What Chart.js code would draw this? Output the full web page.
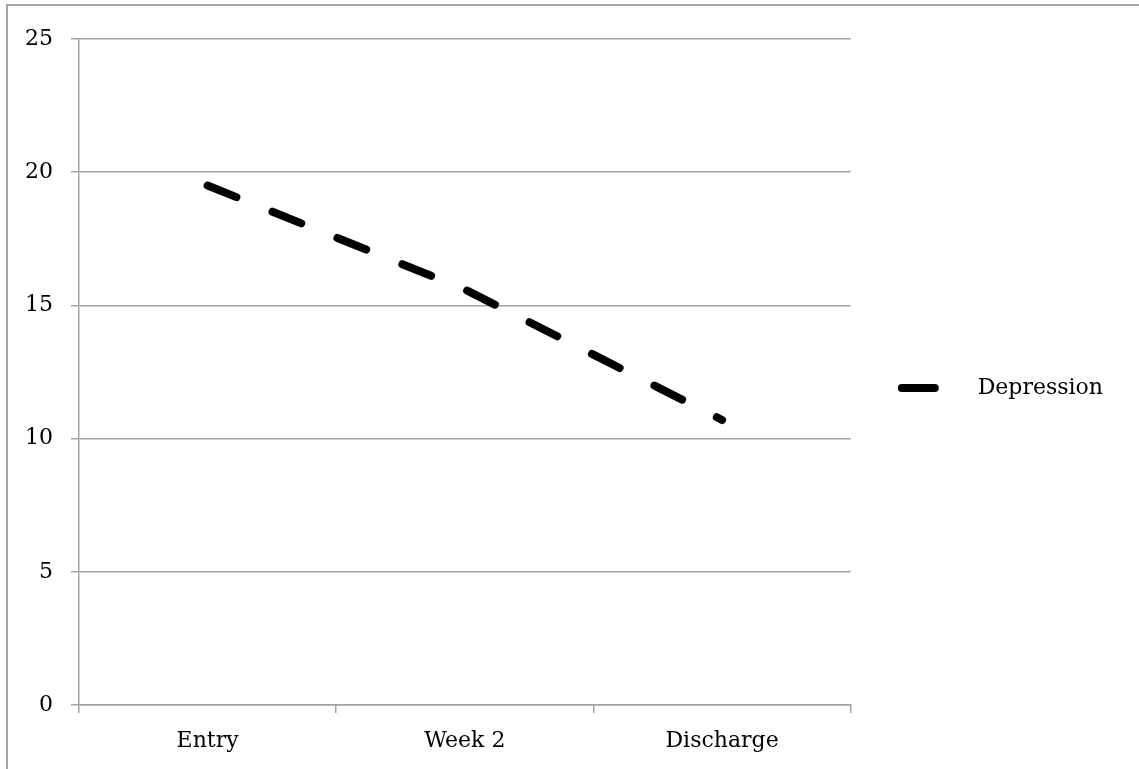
<!DOCTYPE html>
<html lang="en">
<head>
    <meta charset="UTF-8">
    <title>Depression</title>
    <script src="https://cdn.jsdelivr.net/npm/chart.js"></script>
    <style>
        html, body { margin: 0; padding: 0; background: #fff; }
        #frame {
            position: absolute; left: 6px; top: 4px; width: 1200px; height: 800px;
            border-left: 2px solid #a6a6a6; border-top: 2px solid #a6a6a6;
        }
        .chart-container { position: absolute; left: 0; top: 0; width: 1139px; height: 769px; }
    </style>
</head>
<body>

    <div id="frame"></div>
    <div class="chart-container">
        <canvas id="depressionChart"></canvas>
    </div>

    <script>
        // Values
        const categories = ['Entry', 'Week 2', 'Discharge'];
        const depression = [19.5, 15.6, 10.7];
        const yTicks = [0, 5, 10, 15, 20, 25];

        const gridColor = '#a3a3a3';

        Chart.defaults.font.family = "'DejaVu Serif', serif";
        Chart.defaults.font.size = 22;
        Chart.defaults.color = '#000';

        // Legend sample: a short solid rounded bar, followed by a gap
        const sample = document.createElement('canvas');
        sample.width = 69;
        sample.height = 10;
        const sctx = sample.getContext('2d');
        sctx.strokeStyle = '#000';
        sctx.lineWidth = 8;
        sctx.lineCap = 'round';
        sctx.beginPath();
        sctx.moveTo(4, 5);
        sctx.lineTo(37, 5);
        sctx.stroke();

        // nudge the legend up a little, like the original
        const legendShift = {
            id: 'legendShift',
            afterLayout(chart) {
                chart.legend.top -= 16;
                chart.legend.bottom -= 16;
            }
        };

        const ctx = document.getElementById('depressionChart').getContext('2d');
        new Chart(ctx, {
            type: 'line',
            data: {
                labels: categories,
                datasets: [{
                    label: 'Depression',
                    data: depression,
                    borderColor: '#000',
                    backgroundColor: '#000',
                    borderWidth: 8,
                    borderDash: [31, 39],
                    borderCapStyle: 'round',
                    pointRadius: 0,
                    tension: 0,
                    fill: false
                }]
            },
            options: {
                responsive: true,
                maintainAspectRatio: false,
                animation: false,
                layout: { padding: { top: 39, right: 26, bottom: 0, left: 0 } },
                plugins: {
                    legend: {
                        position: 'right',
                        labels: {
                            usePointStyle: true,
                            pointStyle: sample,
                            pointStyleWidth: 69,
                            padding: 47
                        }
                    },
                    tooltip: { enabled: false }
                },
                scales: {
                    x: {
                        offset: true,
                        afterFit: s => { s.height = 64; },
                        grid: {
                            offset: true,
                            drawOnChartArea: false,
                            drawTicks: true,
                            tickLength: 8,
                            color: gridColor,
                            lineWidth: 1.5
                        },
                        border: { color: gridColor, width: 1.5 },
                        ticks: { padding: 15 }
                    },
                    y: {
                        min: 0,
                        max: 25,
                        afterFit: s => { s.width = 79; },
                        afterBuildTicks: s => { s.ticks = yTicks.map(v => ({ value: v })); },
                        grid: { color: gridColor, lineWidth: 1.5, tickLength: 8 },
                        border: { color: gridColor, width: 1.5 },
                        ticks: { padding: 18 }
                    }
                }
            },
            plugins: [legendShift]
        });
    </script>

</body>
</html>
